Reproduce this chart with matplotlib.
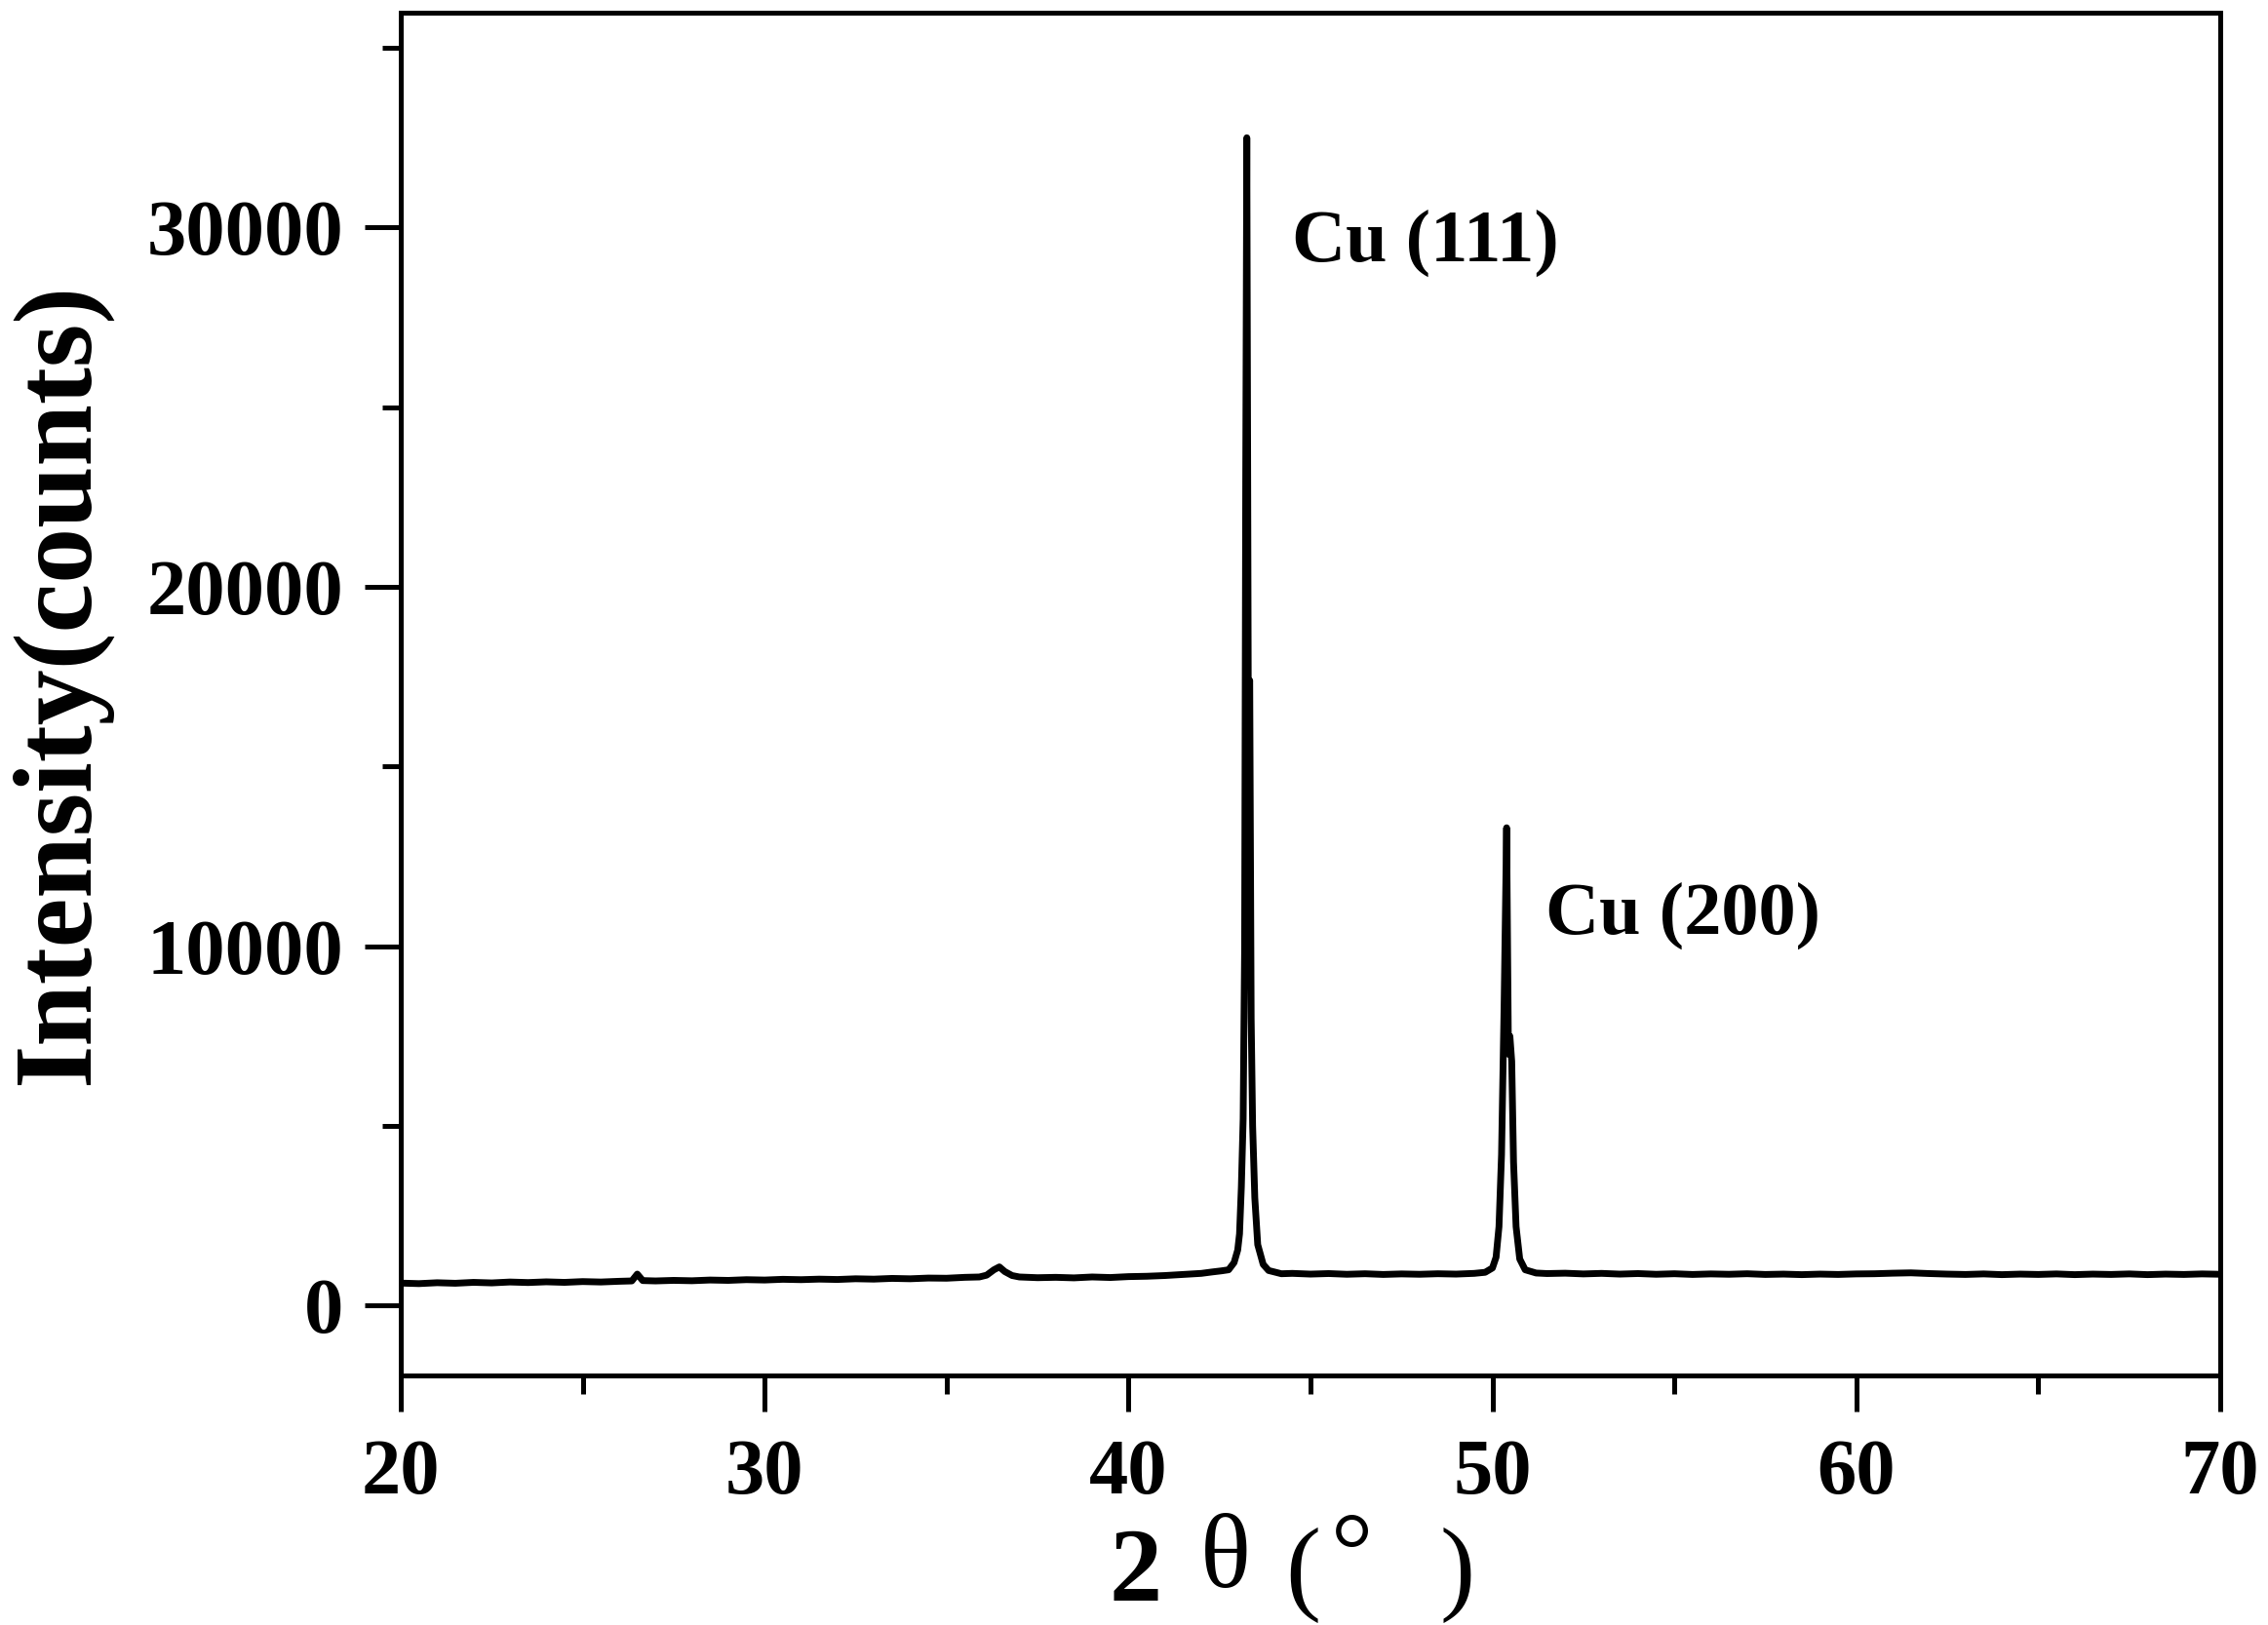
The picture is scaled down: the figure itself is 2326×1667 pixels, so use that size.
import matplotlib
matplotlib.use('Agg')
import matplotlib.pyplot as plt
from matplotlib.ticker import MultipleLocator

# XRD pattern (2 theta in degrees, intensity in counts)
two_theta = [20.0, 20.5, 21.0, 21.5, 22.0, 22.5, 23.0, 23.5, 24.0, 24.5, 25.0, 25.5, 26.0,
             26.35, 26.5, 26.65,
             27.0, 27.5, 28.0, 28.5, 29.0, 29.5, 30.0, 30.5, 31.0, 31.5, 32.0, 32.5, 33.0,
             33.5, 34.0, 34.5, 35.0, 35.5, 35.9,
             36.1, 36.3, 36.45, 36.6, 36.8,
             37.0, 37.5, 38.0, 38.5, 39.0, 39.5, 40.0, 40.5, 41.0, 41.5, 42.0, 42.3, 42.55,
             42.75, 42.9, 43.0, 43.05, 43.1, 43.15, 43.19, 43.22, 43.25, 43.29, 43.33, 43.37,
             43.41, 43.47, 43.55, 43.7, 43.85,
             44.2, 44.5, 45.0, 45.5, 46.0, 46.5, 47.0, 47.5, 48.0, 48.5, 49.0, 49.5, 49.8,
             50.0, 50.1, 50.18, 50.25, 50.32, 50.39, 50.44, 50.48, 50.53, 50.58, 50.65, 50.75,
             50.9,
             51.2, 51.5, 52.0, 52.5, 53.0, 53.5, 54.0, 54.5, 55.0, 55.5, 56.0, 56.5, 57.0,
             57.5, 58.0, 58.5, 59.0, 59.5, 60.0, 60.5, 61.0, 61.5, 62.0, 62.5, 63.0, 63.5,
             64.0, 64.5, 65.0, 65.5, 66.0, 66.5, 67.0, 67.5, 68.0, 68.5, 69.0, 69.5, 70.0]
intensity = [630, 615, 640, 625, 650, 635, 660, 645, 665, 650, 672, 660, 680,
             690, 880, 700,
             690, 705, 695, 715, 705, 725, 715, 735, 725, 740, 730, 750, 740,
             760, 750, 770, 765, 790, 800,
             850, 1000, 1080, 950, 840,
             800, 780, 790, 775, 800, 785, 810, 820, 840, 870, 900, 940, 970,
             1000, 1200, 1550, 2000, 3300, 5200, 10000, 23000, 32500, 17200, 17400, 8000,
             5000, 3000, 1700, 1150, 980,
             890, 900, 880, 895, 875, 890, 870, 885, 875, 890, 880, 900, 930,
             1050, 1350, 2200, 4200, 8300, 13300, 7000, 7500, 6800, 4000, 2200, 1300,
             1000,
             910, 895, 905, 885, 900, 880, 895, 875, 890, 870, 885, 875, 890,
             870, 880, 865, 880, 870, 885, 890, 905, 915, 895, 880, 870, 885,
             865, 880, 870, 885, 865, 880, 870, 885, 865, 880, 870, 885, 875]

peak_labels = ['Cu (111)', 'Cu (200)']
label_x = [44.49, 51.46]
label_y = [29060, 10350]

serif = 'Liberation Serif'
W, H = 2326, 1667

fig = plt.figure(figsize=(W / 100, H / 100), dpi=100)
ax = fig.add_axes([411 / W, 1 - 1411 / H, (2277 - 411) / W, (1411 - 13) / H])

ax.plot(two_theta, intensity, color='black', lw=5.0, solid_joinstyle='round')

ax.set_xlim(20, 70)
ax.set_ylim(-1940, 35980)
ax.xaxis.set_major_locator(MultipleLocator(10))
ax.xaxis.set_minor_locator(MultipleLocator(5))
ax.yaxis.set_major_locator(MultipleLocator(10000))
ax.yaxis.set_minor_locator(MultipleLocator(5000))

for s in ax.spines.values():
    s.set_linewidth(3.6)
ax.tick_params(which='major', direction='out', length=26.5, width=3.6)
ax.tick_params(which='minor', direction='out', length=13.5, width=3.6)
ax.tick_params(axis='x', which='major', pad=20)
ax.tick_params(axis='y', which='major', pad=16)
for lab in ax.get_xticklabels() + ax.get_yticklabels():
    lab.set_fontfamily(serif)
    lab.set_fontweight('bold')
    lab.set_fontsize(58)

for t, x, y in zip(peak_labels, label_x, label_y):
    ax.text(x, y, t, fontfamily=serif, fontweight='bold', fontsize=55,
            ha='left', va='baseline')

# y label
fig.text(62 / W, 1 - 701 / H, 'Intensity(counts)', rotation=90, ha='center', va='center',
         fontfamily=serif, fontweight='bold', fontsize=82)

# x label pieces: bold 2, plain theta and brackets
def px(x, y):
    return x / W, 1 - y / H

fig.text(*px(1138, 1642), '2', fontfamily=serif, fontweight='bold', fontsize=78,
         ha='left', va='baseline')
fig.text(*px(1231, 1628), 'θ', fontfamily=serif, fontsize=78, ha='left', va='baseline')
fig.text(*px(1318, 1642), '(', fontfamily=serif, fontsize=78, ha='left', va='baseline')
fig.text(*px(1365, 1626), '°', fontfamily=serif, fontsize=78, ha='left', va='baseline')
fig.text(*px(1476, 1642), ')', fontfamily=serif, fontsize=78, ha='left', va='baseline')

fig.savefig('out.png', dpi=100)
